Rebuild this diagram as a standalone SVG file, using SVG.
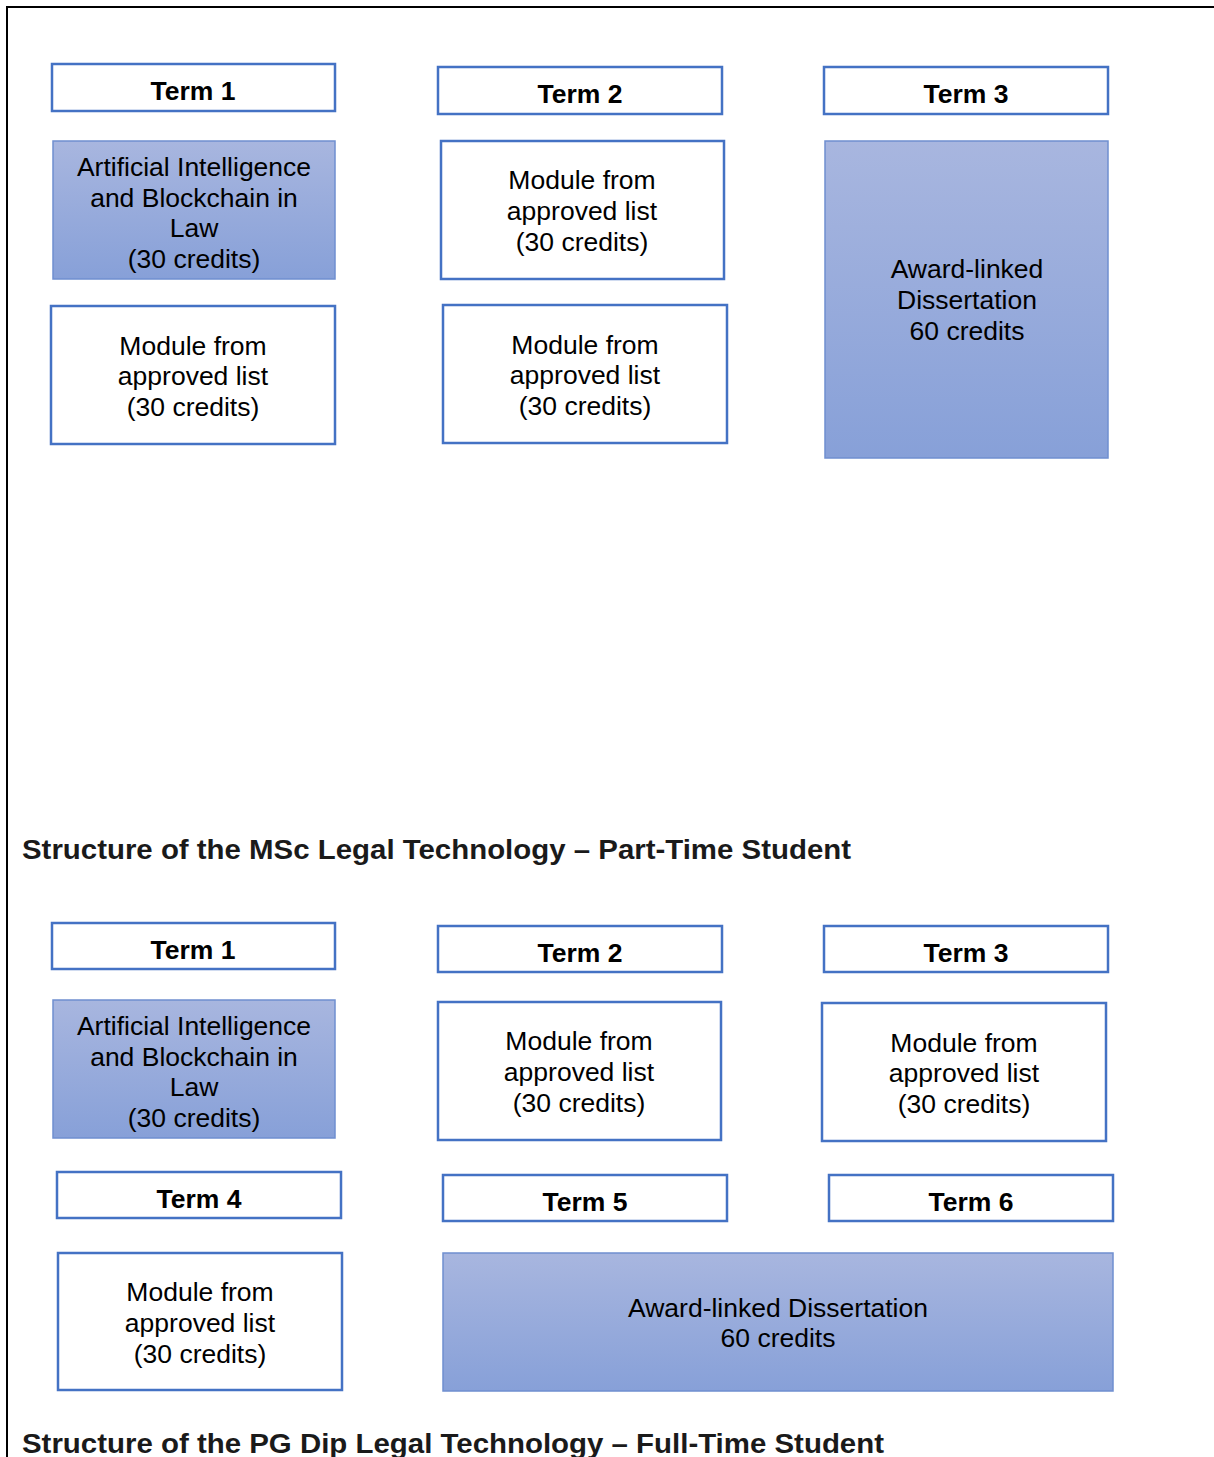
<svg xmlns="http://www.w3.org/2000/svg" width="1214" height="1457" viewBox="0 0 1214 1457">
<style>
.term{fill:#fff;stroke:#4472C4;stroke-width:2.5}
.mod{fill:#fff;stroke:#4472C4;stroke-width:2.5}
.grad{fill:url(#g);stroke:#6F8FD0;stroke-width:1.5}
.tt{font-family:"Liberation Sans",Arial,sans-serif;font-weight:bold;font-size:26.5px;fill:#000;text-anchor:middle}
.mt{font-family:"Liberation Sans",Arial,sans-serif;font-size:26.5px;fill:#000;text-anchor:middle}
.hd{font-family:"Liberation Sans",Arial,sans-serif;font-weight:bold;font-size:27px;fill:#1a1a1a}
</style>
<defs>
<linearGradient id="g" x1="0" y1="0" x2="0" y2="1">
<stop offset="0" stop-color="#A8B6DF"/>
<stop offset="1" stop-color="#87A0D8"/>
</linearGradient>
</defs>
<rect width="1214" height="1457" fill="#fff"/>
<g id="page-border">
<path d="M7 1457 V7 H1214" fill="none" stroke="#000" stroke-width="2"/>
</g>
<g id="connectors"></g>

<g id="t1-term1"><rect class="term" x="52" y="64" width="283" height="47"/><text class="tt" x="193" y="100">Term 1</text></g>
<g id="t1-ai"><rect class="grad" x="53" y="141" width="282" height="138"/><text class="mt" x="194" y="176">Artificial Intelligence</text><text class="mt" x="194" y="207">and Blockchain in</text><text class="mt" x="194" y="237">Law</text><text class="mt" x="194" y="268">(30 credits)</text></g>
<g id="t1-mod1"><rect class="mod" x="51" y="306" width="284" height="138"/><text class="mt" x="193" y="355">Module from</text><text class="mt" x="193" y="385">approved list</text><text class="mt" x="193" y="416">(30 credits)</text></g>
<g id="t1-term2"><rect class="term" x="438" y="67" width="284" height="47"/><text class="tt" x="580" y="103">Term 2</text></g>
<g id="t1-mod2"><rect class="mod" x="441" y="141" width="283" height="138"/><text class="mt" x="582" y="189">Module from</text><text class="mt" x="582" y="220">approved list</text><text class="mt" x="582" y="251">(30 credits)</text></g>
<g id="t1-mod3"><rect class="mod" x="443" y="305" width="284" height="138"/><text class="mt" x="585" y="354">Module from</text><text class="mt" x="585" y="384">approved list</text><text class="mt" x="585" y="415">(30 credits)</text></g>
<g id="t1-term3"><rect class="term" x="824" y="67" width="284" height="47"/><text class="tt" x="966" y="103">Term 3</text></g>
<g id="t1-diss"><rect class="grad" x="825" y="141" width="283" height="317"/><text class="mt" x="967" y="278">Award-linked</text><text class="mt" x="967" y="309">Dissertation</text><text class="mt" x="967" y="340">60 credits</text></g>

<g id="heading-parttime"><text class="hd" x="22" y="859" textLength="829" lengthAdjust="spacingAndGlyphs">Structure of the MSc Legal Technology – Part-Time Student</text></g>

<g id="t2-term1"><rect class="term" x="52" y="923" width="283" height="46"/><text class="tt" x="193" y="959">Term 1</text></g>
<g id="t2-ai"><rect class="grad" x="53" y="1000" width="282" height="138"/><text class="mt" x="194" y="1035">Artificial Intelligence</text><text class="mt" x="194" y="1066">and Blockchain in</text><text class="mt" x="194" y="1096">Law</text><text class="mt" x="194" y="1127">(30 credits)</text></g>
<g id="t2-term2"><rect class="term" x="438" y="926" width="284" height="46"/><text class="tt" x="580" y="962">Term 2</text></g>
<g id="t2-mod2"><rect class="mod" x="438" y="1002" width="283" height="138"/><text class="mt" x="579" y="1050">Module from</text><text class="mt" x="579" y="1081">approved list</text><text class="mt" x="579" y="1112">(30 credits)</text></g>
<g id="t2-term3"><rect class="term" x="824" y="926" width="284" height="46"/><text class="tt" x="966" y="962">Term 3</text></g>
<g id="t2-mod3"><rect class="mod" x="822" y="1003" width="284" height="138"/><text class="mt" x="964" y="1052">Module from</text><text class="mt" x="964" y="1082">approved list</text><text class="mt" x="964" y="1113">(30 credits)</text></g>
<g id="t2-term4"><rect class="term" x="57" y="1172" width="284" height="46"/><text class="tt" x="199" y="1208">Term 4</text></g>
<g id="t2-term5"><rect class="term" x="443" y="1175" width="284" height="46"/><text class="tt" x="585" y="1211">Term 5</text></g>
<g id="t2-term6"><rect class="term" x="829" y="1175" width="284" height="46"/><text class="tt" x="971" y="1211">Term 6</text></g>
<g id="t2-mod4"><rect class="mod" x="58" y="1253" width="284" height="137"/><text class="mt" x="200" y="1301">Module from</text><text class="mt" x="200" y="1332">approved list</text><text class="mt" x="200" y="1363">(30 credits)</text></g>
<g id="t2-diss"><rect class="grad" x="443" y="1253" width="670" height="138"/><text class="mt" x="778" y="1317">Award-linked Dissertation</text><text class="mt" x="778" y="1347">60 credits</text></g>

<g id="heading-pgdip"><text class="hd" x="22" y="1453" textLength="862" lengthAdjust="spacingAndGlyphs">Structure of the PG Dip Legal Technology – Full-Time Student</text></g>
</svg>
